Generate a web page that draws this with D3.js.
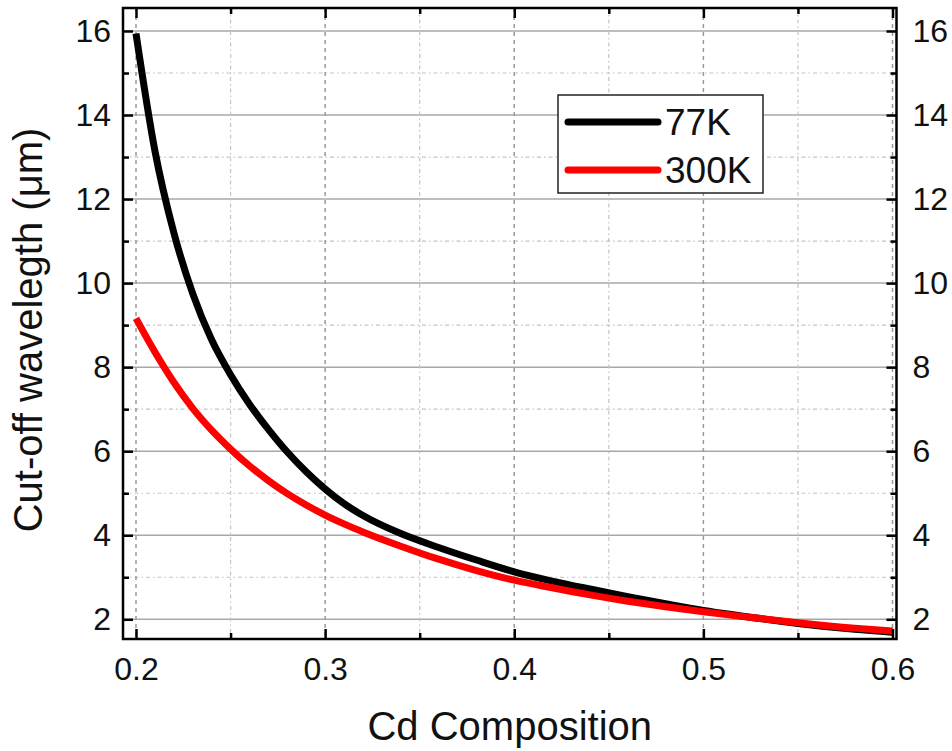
<!DOCTYPE html>
<html>
<head>
<meta charset="utf-8">
<script src="https://cdn.jsdelivr.net/npm/d3@7"></script>
<style>
  body { margin: 0; background: #fff; }
  text { font-family: "Liberation Sans", Arial, sans-serif; fill: #111; }
</style>
</head>
<body>
<div id="chart"></div>
<script>
// data
const xComp = [0.20, 0.21, 0.22, 0.23, 0.24, 0.25, 0.26, 0.27, 0.28, 0.29, 0.30, 0.31,
    0.32, 0.34, 0.36, 0.38, 0.40, 0.42, 0.44, 0.46, 0.48, 0.50, 0.52, 0.55, 0.58, 0.60];
const y77 = [15.94, 13.15, 11.2, 9.75, 8.65, 7.82, 7.12, 6.52, 5.98, 5.51, 5.1, 4.75,
    4.47, 4.04, 3.71, 3.41, 3.13, 2.91, 2.72, 2.54, 2.37, 2.21, 2.08, 1.9, 1.76, 1.69];
const y300 = [9.16, 8.36, 7.64, 7.02, 6.5, 6.05, 5.65, 5.3, 4.99, 4.72, 4.48, 4.27,
    4.08, 3.74, 3.43, 3.16, 2.93, 2.75, 2.58, 2.43, 2.3, 2.18, 2.07, 1.92, 1.79, 1.72];

const xTicks = [0.2, 0.3, 0.4, 0.5, 0.6];
const xMinor = [0.25, 0.35, 0.45, 0.55];
const yTicks = [2, 4, 6, 8, 10, 12, 14, 16];
const yMinor = [3, 5, 7, 9, 11, 13, 15];

const seriesNames = ['77K', '300K'];
const seriesColors = ['#000000', '#ff0000'];

// set margin
const margin = {top: 8, right: 55.5, bottom: 112, left: 123};
const width = 952 - margin.left - margin.right,
    height = 751 - margin.top - margin.bottom;

const svg = d3.select('#chart').append('svg')
    .attr('width', 952)
    .attr('height', 751)
    .append('g')
    .attr('transform', 'translate(' + margin.left + ',' + margin.top + ')');

const x = d3.scaleLinear().domain([0.19313, 0.60211]).range([0, width]);
const y = d3.scaleLinear().domain([1.531, 16.547]).range([height, 0]);

// grid lines
svg.selectAll('.hmajor').data(yTicks).enter().append('line')
    .attr('x1', 0).attr('x2', width)
    .attr('y1', d => y(d)).attr('y2', d => y(d))
    .style('stroke', '#a8a8a8').style('stroke-width', 1.5);

svg.selectAll('.hminor').data(yMinor).enter().append('line')
    .attr('x1', 0).attr('x2', width)
    .attr('y1', d => y(d)).attr('y2', d => y(d))
    .style('stroke', '#c4c4c4').style('stroke-width', 1.2)
    .style('stroke-dasharray', '4,3,1.5,3');

svg.selectAll('.vmajor').data(xTicks).enter().append('line')
    .attr('y1', 0).attr('y2', height)
    .attr('x1', d => x(d)).attr('x2', d => x(d))
    .style('stroke', '#9a9a9a').style('stroke-width', 1.5)
    .style('stroke-dasharray', '4,4');

svg.selectAll('.vminor').data(xMinor).enter().append('line')
    .attr('y1', 0).attr('y2', height)
    .attr('x1', d => x(d)).attr('x2', d => x(d))
    .style('stroke', '#c4c4c4').style('stroke-width', 1.2)
    .style('stroke-dasharray', '4,3,1.5,3');

// curves
const line = d3.line()
    .x(d => x(d[0]))
    .y(d => y(d[1]))
    .curve(d3.curveMonotoneX);

const data77 = xComp.map((v, i) => [v, y77[i]]);
const data300 = xComp.map((v, i) => [v, y300[i]]);

svg.append('path')
    .datum(data77)
    .attr('d', line)
    .style('fill', 'none')
    .style('stroke', seriesColors[0])
    .style('stroke-width', 7);

svg.append('path')
    .datum(data300)
    .attr('d', line)
    .style('fill', 'none')
    .style('stroke', seriesColors[1])
    .style('stroke-width', 7);

// axes, ticks pointing inward
function styleAxis(g) {
    g.select('.domain').remove();
    g.selectAll('.tick line').style('stroke', '#000').style('stroke-width', 2.5);
    g.selectAll('.tick text').style('font-size', '32px').style('fill', '#111')
        .style('font-family', '"Liberation Sans", Arial, sans-serif');
}

svg.append('g')
    .attr('transform', 'translate(0,' + height + ')')
    .call(d3.axisBottom(x).tickValues(xTicks).tickSize(-10).tickPadding(18).tickFormat(d3.format('.1f')))
    .call(styleAxis);
svg.append('g')
    .attr('transform', 'translate(0,' + height + ')')
    .call(d3.axisBottom(x).tickValues(xMinor).tickSize(-6).tickFormat(''))
    .call(styleAxis);

svg.append('g')
    .call(d3.axisTop(x).tickValues(xTicks).tickSize(-10).tickFormat(''))
    .call(styleAxis);
svg.append('g')
    .call(d3.axisTop(x).tickValues(xMinor).tickSize(-6).tickFormat(''))
    .call(styleAxis);

svg.append('g')
    .call(d3.axisLeft(y).tickValues(yTicks).tickSize(-10).tickPadding(12))
    .call(styleAxis);
svg.append('g')
    .call(d3.axisLeft(y).tickValues(yMinor).tickSize(-6).tickFormat(''))
    .call(styleAxis);

svg.append('g')
    .attr('transform', 'translate(' + width + ',0)')
    .call(d3.axisRight(y).tickValues(yTicks).tickSize(-10).tickPadding(16))
    .call(styleAxis);
svg.append('g')
    .attr('transform', 'translate(' + width + ',0)')
    .call(d3.axisRight(y).tickValues(yMinor).tickSize(-6).tickFormat(''))
    .call(styleAxis);

// frame
svg.append('rect')
    .attr('x', 0).attr('y', 0)
    .attr('width', width).attr('height', height)
    .style('fill', 'none')
    .style('stroke', '#000')
    .style('stroke-width', 2.5);

// axis titles
svg.append('text')
    .attr('x', width / 2)
    .attr('y', 740 - margin.top)
    .style('text-anchor', 'middle')
    .style('font-size', '40px')
    .text('Cd Composition');

svg.append('text')
    .attr('transform', 'translate(' + (42 - margin.left) + ',' + (330 - margin.top) + ') rotate(-90)')
    .style('text-anchor', 'middle')
    .style('font-size', '40px')
    .text('Cut-off wavelegth (μm)');

// legend
const legend = svg.append('g')
    .attr('transform', 'translate(' + (558 - margin.left) + ',' + (95 - margin.top) + ')');

legend.append('rect')
    .attr('width', 205).attr('height', 98)
    .style('fill', '#fff')
    .style('stroke', '#222')
    .style('stroke-width', 1.5);

seriesNames.forEach(function (name, i) {
    legend.append('line')
        .attr('x1', 10).attr('x2', 100)
        .attr('y1', 27 + i * 48).attr('y2', 27 + i * 48)
        .style('stroke', seriesColors[i])
        .style('stroke-width', 7)
        .style('stroke-linecap', 'round');
    legend.append('text')
        .attr('x', 107)
        .attr('y', 40 + i * 48)
        .style('font-size', '37px')
        .text(name);
});
</script>
</body>
</html>
